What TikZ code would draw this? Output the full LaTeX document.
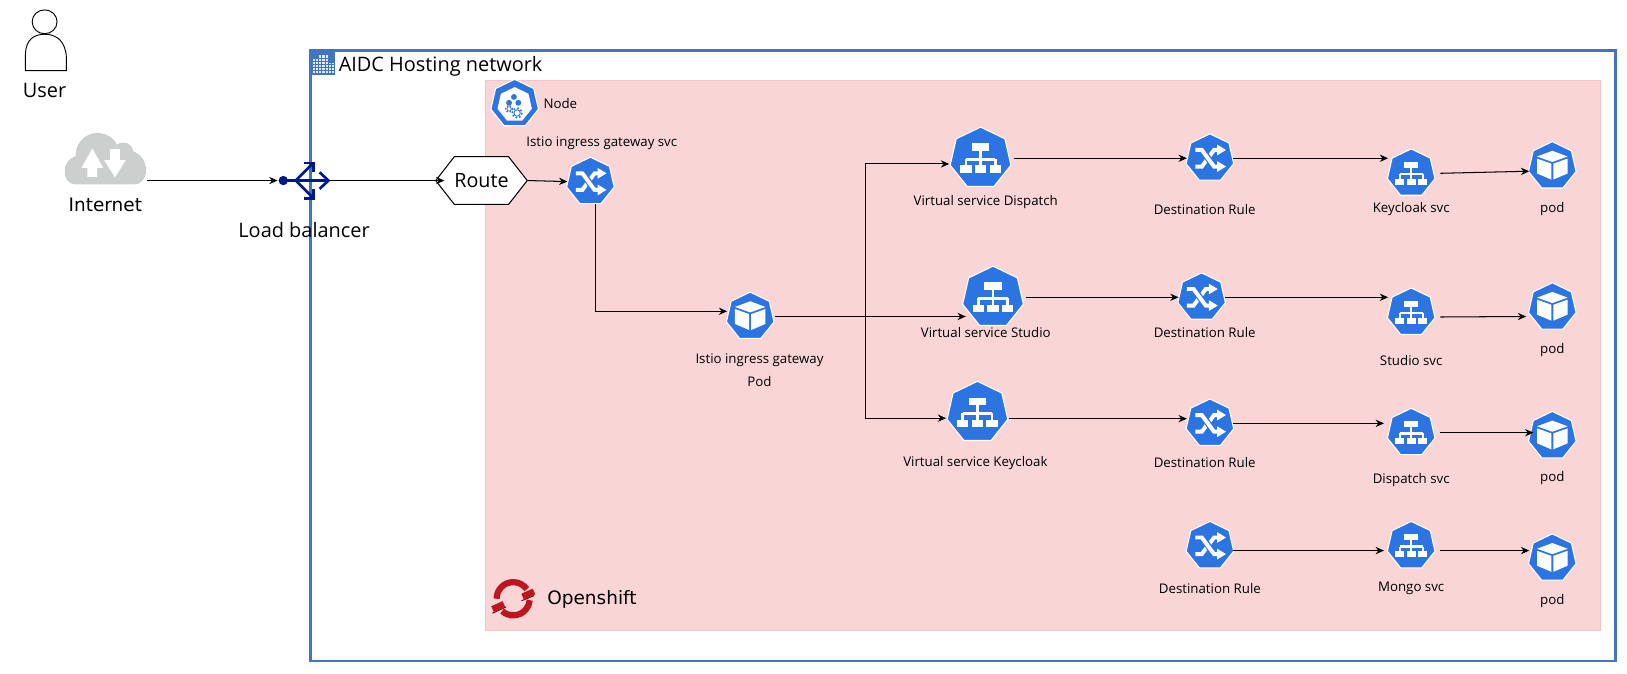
\documentclass[tikz,border=0pt]{standalone}
\usepackage{fontspec}
\setmainfont{Open Sans}
\newfontfamily\uifont{DejaVu Sans}
\usetikzlibrary{shapes, shapes.geometric, shapes.symbols, arrows.meta, positioning, calc}
\definecolor{kubeblue}{HTML}{2B74E2}
\definecolor{hostblue}{HTML}{4175BF}
\definecolor{lbblue}{HTML}{00188D}
\definecolor{osred}{HTML}{BC1620}
\definecolor{pinkfill}{HTML}{F9D5D5}
\definecolor{pinkline}{HTML}{F6C4C4}
\definecolor{cloudgray}{HTML}{CDCFCF}
\definecolor{clouddark}{HTML}{999B9B}
\newcommand{\svcglyph}{
  \fill[white] (-.278,-.478) rectangle (.278,-.233);
  \foreach \bx in {-.47,0,.47} {
    \fill[white] (\bx-.18,.233) rectangle (\bx+.18,.478);
    \draw[white] (\bx,.03) -- (\bx,.233);
  }
  \draw[white] (0,-.233) -- (0,.03);
  \draw[white] (-.47,.03) -- (.47,.03);
}
\newcommand{\podglyph}{
  \fill[white] (0,-.625) -- (.625,-.39) -- (0,-.167) -- (-.625,-.39) -- cycle;
  \fill[white] (-.625,-.306) -- (-.04,-.097) -- (-.04,.556) -- (-.625,.306) -- cycle;
  \fill[white] (.625,-.306) -- (.04,-.097) -- (.04,.556) -- (.625,.306) -- cycle;
}
\newcommand{\ruleglyph}{
  \draw[white,line width=1.9pt] (-.6,.34) -- (-.33,.34) -- (.17,-.34) -- (.32,-.34);
  \fill[white] (.3,-.56) -- (.66,-.34) -- (.3,-.12) -- cycle;
  \draw[kubeblue,line width=3pt] (-.3,-.34) -- (.15,.34);
  \draw[white,line width=1.9pt] (-.6,-.34) -- (-.33,-.34) -- (.17,.34) -- (.32,.34);
  \fill[white] (.3,.12) -- (.66,.34) -- (.3,.56) -- cycle;
}
\newcommand{\nodeglyph}{
  \node[regular polygon,regular polygon sides=7,minimum size=17pt,inner sep=0pt,fill=white] at (0,.04) {};
  \foreach \hx/\hy in {-.03/-.28,-.23/-.04,.15/-.04}
    \fill[kubeblue] (\hx,\hy) circle (.12);
  \draw[kubeblue,line width=.35pt] (-.23,.21) circle (.09);
  \draw[kubeblue,line width=.4pt] (.1,.38) circle (.13);
  \draw[kubeblue,line width=.6pt,densely dotted] (-.23,.21) circle (.14);
  \draw[kubeblue,line width=.8pt,densely dotted] (.1,.38) circle (.2);
}
\newcommand{\cloudoutline}{
  (-28,24.5) .. controls (-35,24.5) and (-39,19) .. (-39,12) .. controls (-39,5) and (-34,-1) .. (-28.5,-2)
  .. controls (-29,-15) and (-19,-24.5) .. (-8,-24.5) .. controls (1,-24.5) and (8,-20) .. (11,-13)
  .. controls (15,-17) and (24,-17) .. (27,-7) .. controls (34,-4) and (39,3) .. (39,11)
  .. controls (39,19) and (34,24.5) .. (28,24.5) -- cycle
}
\begin{document}
\begin{tikzpicture}[x=.5pt,y=-.5pt,>={Stealth[length=4pt,width=3.5pt]},on grid,line width=.5pt,
    kubeicon/.style={regular polygon,regular polygon sides=7,minimum size=#1 pt,inner sep=0pt,fill=kubeblue,draw=white,line width=.5pt},
    svcicon/.style={kubeicon=#1,path picture={
      \begin{scope}[shift={(path picture bounding box.center)},x=#1*.5pt,y=#1*-.5pt,line width=#1*.045pt]\svcglyph\end{scope}}},
    svcicon/.default=23.5,
    podicon/.style={kubeicon=23.5,path picture={
      \begin{scope}[shift={(path picture bounding box.center)},x=11.75pt,y=-11.75pt]\podglyph\end{scope}}},
    ruleicon/.style={kubeicon=23.5,path picture={
      \begin{scope}[shift={(path picture bounding box.center)},x=11.75pt,y=-11.75pt]\ruleglyph\end{scope}}},
    nodeicon/.style={kubeicon=23.5,path picture={
      \begin{scope}[shift={(path picture bounding box.center)},x=11.75pt,y=-11.75pt]\nodeglyph\end{scope}}},
    cloudicon/.style={minimum width=40pt,minimum height=27pt,inner sep=0pt,path picture={
      \begin{scope}[shift={(path picture bounding box.center)}]
        \fill[clouddark] \cloudoutline;
        \begin{scope}[yshift=1.2pt]\fill[cloudgray] \cloudoutline;\end{scope}
        \fill[white] (-12.5,-10) -- (-2.1,8.7) -- (-7.8,8.7) -- (-7.8,17.4) -- (-17.2,17.4) -- (-17.2,8.7) -- (-22.9,8.7) -- cycle;
        \fill[white] (9.3,18) -- (19.7,1.3) -- (14,1.3) -- (14,-9.3) -- (4.6,-9.3) -- (4.6,1.3) -- (-1.1,1.3) -- cycle;
      \end{scope}}},
    lbicon/.style={minimum width=25pt,minimum height=20pt,inner sep=0pt,path picture={
      \begin{scope}[shift={(path picture bounding box.center)},lbblue,line width=1.3pt]
        \fill (-20,0) circle (4.5);
        \draw (-20,0) -- (23.5,0);
        \draw (15,-8) -- (23.5,0) -- (15,8);
        \draw (-8,0) -- (9,-17);
        \draw (-.5,-17) -- (9,-17) -- (9,-8.5);
        \draw (-8,0) -- (9,17);
        \draw (-.5,17) -- (9,17) -- (9,8.5);
      \end{scope}}},
    buildicon/.style={minimum size=12pt,inner sep=0pt,fill=hostblue,path picture={
      \begin{scope}[shift={(path picture bounding box.center)}]
        \fill[white!85!hostblue] (-9.6,-3.5) rectangle (-4,10);
        \fill[white!85!hostblue] (-4,-7.4) rectangle (5.5,10);
        \fill[white!85!hostblue] (5.5,.6) rectangle (11,10);
        \foreach \wy in {-4.5,-1.5,1.5,4.5,7.5} \draw[hostblue,line width=.35pt] (-9.6,\wy) -- (11,\wy);
        \foreach \wx in {-7,-4,-1,2.5,5.5,8.5} \draw[hostblue,line width=.35pt] (\wx,-7.4) -- (\wx,10);
      \end{scope}}},
    logoicon/.style={minimum size=22pt,inner sep=0pt,path picture={
      \begin{scope}[shift={(path picture bounding box.center)}]
        \draw[osred,line width=3pt] (180:8pt) arc[start angle=180,end angle=35,radius=8pt];
        \draw[osred,line width=3pt] (228:8pt) arc[start angle=228,end angle=355,radius=8pt];
        \draw[osred,line width=3pt] (-20,10) -- (-9,5);
        \draw[osred,line width=3pt] (20,-7) -- (9,-2);
        \draw[osred!65!black,line width=.5pt] (-20,14) -- (-7,8);
        \draw[osred!65!black,line width=.5pt] (20,-3) -- (8,2);
      \end{scope}}},
    routebox/.style={signal,signal to=west and east,signal pointer angle=104,minimum width=44pt,minimum height=23pt,inner sep=0pt,draw=black,fill=white,font=\fontsize{9.5}{11}\selectfont},
    smalltext/.style={font=\fontsize{6.4}{7}\selectfont,inner sep=0pt},
    bigtext/.style={font=\fontsize{9.6}{11}\selectfont,inner sep=0pt},
    uitext/.style={font=\uifont\fontsize{8.9}{10}\selectfont,inner sep=0pt}]
  \useasboundingbox (0,0) rectangle (1568,648.6);

  \node[draw=hostblue,line width=1.4pt,minimum width=629pt,minimum height=294pt,inner sep=0pt] (hosting) at (928,343) {};
  \node[buildicon] (hostingicon) at (311,60.5) {};
  \node[bigtext,anchor=west] (hostingtext) at (326,64) {AIDC Hosting network};
  \node[draw=pinkline,fill=pinkfill,minimum width=537pt,minimum height=265pt,inner sep=0pt] (openshift) at (1005,343) {};
  \node[logoicon] (oslogo) at (494.6,577) {};
  \node[uitext,anchor=west] (oslogotext) at (527,578) {Openshift};

  \draw[line width=.45pt,fill=white] (24.5,68) -- (24.5,52) .. controls (25,38) and (33,33) .. (43,33) .. controls (55,33) and (63,40) .. (64,55) -- (64,68) -- cycle;
  \draw[line width=.45pt,fill=white] (43,21) ellipse (12 and 11.5);
  \node[bigtext] (usertext) at (43,87) {User};
  \node[cloudicon] (internet) at (101.5,153) {};
  \node[uitext,below=22pt of internet] (internettext) {Internet};
  \node[lbicon] (lb) at (293,174) {};
  \node[bigtext,below=24pt of lb] (lbtext) {Load balancer};
  \node[routebox] (route) at (464,174) {Route};

  \node[nodeicon] (nodeimg) at (496,100) {};
  \node[smalltext,right=22pt of nodeimg] (nodetext) {Node};
  \node[ruleicon] (svcingress) at (569,175) {};
  \node[smalltext,above right=18.5pt and 5.5pt of svcingress] (svcingresstext) {Istio ingress gateway svc};
  \node[podicon,below right=65pt and 77pt of svcingress] (podgateway) {};
  \node[smalltext,below right=21pt and 4.5pt of podgateway] (gatewaytext) {Istio ingress gateway};
  \node[smalltext,below=10.5pt of gatewaytext] (gatewaypodtext) {Pod};

  \node[svcicon=30] (vsdispatch) at (945,152.5) {};
  \node[svcicon=30,below right=67pt and 6pt of vsdispatch] (vsstudio) {};
  \node[svcicon=30,below left=55.5pt and 7.5pt of vsstudio] (vskeycloak) {};
  \node[smalltext,below right=21.25pt and 2.5pt of vsdispatch] (vsdispatchtext) {Virtual service Dispatch};
  \node[smalltext,below left=16.75pt and 3.5pt of vsstudio] (vsstudiotext) {Virtual service Studio};
  \node[smalltext,below left=24.25pt and 1pt of vskeycloak] (vskeycloaktext) {Virtual service Keycloak};

  \node[ruleicon,right=110.5pt of vsdispatch] (ruleone) {};
  \node[ruleicon,right=100.5pt of vsstudio] (ruletwo) {};
  \node[ruleicon,below right=5.25pt and 112pt of vskeycloak] (rulethree) {};
  \node[ruleicon,below=59pt of rulethree] (rulefour) {};
  \node[smalltext,below left=24.5pt and 2.5pt of ruleone] (ruleonetext) {Destination Rule};
  \node[smalltext,below right=17pt and 1.5pt of ruletwo] (ruletwotext) {Destination Rule};
  \node[smalltext,below left=19pt and 2.5pt of rulethree] (rulethreetext) {Destination Rule};
  \node[smalltext,below=20.5pt of rulefour] (rulefourtext) {Destination Rule};

  \node[svcicon,below right=7.25pt and 97pt of ruleone] (svckeycloak) {};
  \node[svcicon,below right=7.25pt and 101pt of ruletwo] (svcstudio) {};
  \node[svcicon,below right=4.5pt and 97pt of rulethree] (svcdispatch) {};
  \node[svcicon,right=97pt of rulefour] (svcmongo) {};
  \node[smalltext,below=17pt of svckeycloak] (svckeycloaktext) {Keycloak svc};
  \node[smalltext,below=23pt of svcstudio] (svcstudiotext) {Studio svc};
  \node[smalltext,below=23pt of svcdispatch] (svcdispatchtext) {Dispatch svc};
  \node[smalltext,below=20.5pt of svcmongo] (svcmongotext) {Mongo svc};

  \node[podicon,above right=3.5pt and 68pt of svckeycloak] (podone) {};
  \node[podicon,above right=2.5pt and 68pt of svcstudio] (podtwo) {};
  \node[podicon,below right=1.5pt and 68pt of svcdispatch] (podthree) {};
  \node[podicon,below right=6pt and 68pt of svcmongo] (podfour) {};
  \node[smalltext,below=20.5pt of podone] (podonetext) {pod};
  \node[smalltext,below=20.5pt of podtwo] (podtwotext) {pod};
  \node[smalltext,below=20.5pt of podthree] (podthreetext) {pod};
  \node[smalltext,below=20.5pt of podfour] (podfourtext) {pod};

  \draw[->] ([yshift=-10.5pt]internet.east) -- (lb.west);
  \draw[->] (lb.east) -- ([xshift=4.5pt]route.west);
  \draw[->] (route.east) -- (svcingress.west);
  \draw[->] ([xshift=2.5pt]svcingress.south) |- ([yshift=2.5pt]podgateway.west);
  \draw[->] ([xshift=1pt]podgateway.east) -- ([xshift=1pt]vsstudio.west |- podgateway.east);
  \draw[->] ([xshift=1pt]podgateway.east) -- ++(87,0) |- ([xshift=-1pt,yshift=-2.75pt]vsdispatch.west);
  \draw[->] ([xshift=1pt]podgateway.east) -- ++(87,0) |- ([xshift=-1pt,yshift=-2.75pt]vskeycloak.west);
  \draw[->] ([xshift=2pt]vsdispatch.east) -- (ruleone.west);
  \draw[->] ([xshift=2pt]vsstudio.east) -- (ruletwo.west);
  \draw[->] ([xshift=1pt,yshift=-3pt]vskeycloak.east) -- ([yshift=2.25pt]rulethree.west);
  \draw[->] (ruleone.east) -- ([yshift=7.25pt]svckeycloak.west);
  \draw[->] (ruletwo.east) -- ([yshift=7.25pt]svcstudio.west);
  \draw[->] (rulethree.east) -- ([xshift=-2pt,yshift=4.5pt]svcdispatch.west);
  \draw[->] ([yshift=-2.3pt]rulefour.east) -- ([xshift=-2pt,yshift=-2.3pt]svcmongo.west);
  \draw[->] ([xshift=3pt]svckeycloak.east) -- ([yshift=-2.5pt]podone.west);
  \draw[->] ([xshift=3pt,yshift=-2.25pt]svcstudio.east) -- ([xshift=-1.5pt,yshift=-4.5pt]podtwo.west);
  \draw[->] ([xshift=3pt]svcdispatch.east) -- ([xshift=2pt,yshift=1.5pt]podthree.west);
  \draw[->] ([xshift=3pt,yshift=-2.3pt]svcmongo.east) -- ([yshift=3.7pt]podfour.west);
\end{tikzpicture}
\end{document}
